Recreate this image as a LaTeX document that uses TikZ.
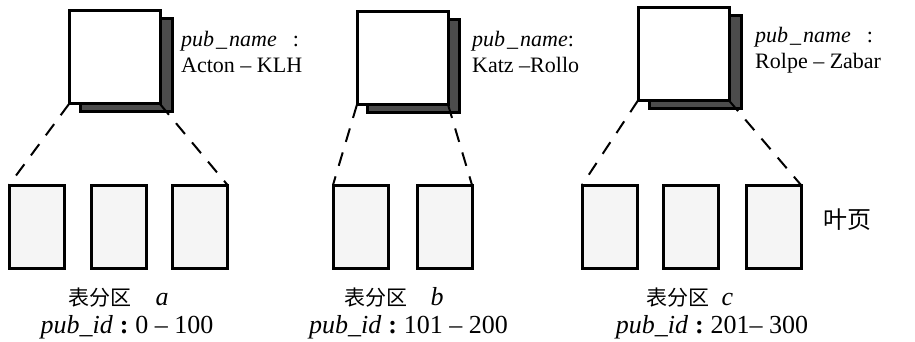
\documentclass[tikz,border=0pt]{standalone}
\usepackage{fontspec}
\setmainfont{Liberation Serif}
\newfontfamily\cjk{Noto Sans CJK SC}
% italic field names with the wide underscore of the original typesetting
\newcommand{\pubname}{\textit{pub\kern2pt\_\kern2pt name}}
\newcommand{\pubid}{\textit{pub\_id}}
\newcommand{\tblpart}{{\cjk\fontsize{21}{24}\selectfont 表分区}}
\newcommand{\idcolon}{\kern7pt\textbf{:}\kern7pt}
\begin{document}
\begin{tikzpicture}[x=1pt,y=-1pt,
  rootbox/.style={draw=black,line width=3pt,fill=white,minimum width=91pt,minimum height=93pt,inner sep=0pt,outer sep=0pt},
  shadowbox/.style={draw=black,line width=3pt,fill=black!70,minimum width=92pt,minimum height=93pt,inner sep=0pt,outer sep=0pt},
  leafbox/.style={draw=black,line width=3pt,fill=black!4,minimum width=55pt,minimum height=83pt,inner sep=0pt,outer sep=0pt},
  link/.style={line width=2pt,dash pattern=on 14pt off 11pt},
  lbl/.style={inner sep=0pt,anchor=base west,font=\fontsize{22}{26}\selectfont},
  partlbl/.style={inner sep=0pt,anchor=base,font=\fontsize{26}{30}\selectfont},
  cn/.style={font=\cjk\fontsize{24}{28}\selectfont}]
\useasboundingbox (0,0) rectangle (915,342);

% partition a
\node[shadowbox] (sa) at (126,65.5) {};
\node[rootbox] (ra) at (114.5,57.5) {};
\node[leafbox] (a1) at (36.5,226.5) {};
\node[leafbox] (a2) at (118.5,226.5) {};
\node[leafbox] (a3) at (200,226.5) {};
\draw[link] (ra.south west) -- (a1.north west);
\draw[link] (ra.south east) -- (a3.north east);
\node[lbl] (na1) at (181,47) {\pubname\hspace{16pt}:};
\node[lbl] (na2) at (181,73) {Acton – KLH};
\node[partlbl] (ta) at (118.5,305) {\tblpart\hspace{24pt}\textit{a}};
\node[partlbl] (ia) at (127,333) {\pubid\idcolon 0 – 100};

% partition b
\node[shadowbox] (sb) at (413.5,66) {};
\node[rootbox] (rb) at (402.5,58) {};
\node[leafbox] (b1) at (360.5,226.5) {};
\node[leafbox] (b2) at (444.5,226.5) {};
\draw[link] (rb.south west) -- (b1.north west);
\draw[link] (rb.south east) -- (b2.north east);
\node[lbl] (nb1) at (472,47) {\pubname:};
\node[lbl] (nb2) at (472,73) {Katz –Rollo};
\node[partlbl] (tb) at (394,305) {\tblpart\hspace{23pt}\textit{b}};
\node[partlbl] (ib) at (408.5,333) {\pubid\idcolon 101 – 200};

% partition c
\node[shadowbox] (sc) at (695,62) {};
\node[rootbox] (rc) at (683.5,54) {};
\node[leafbox] (c1) at (609.5,226.5) {};
\node[leafbox] (c2) at (690.5,226.5) {};
\node[leafbox] (c3) at (773.5,226.5) {};
\draw[link] (rc.south west) -- (c1.north west);
\draw[link] (rc.south east) -- (c3.north east);
\node[lbl] (nc1) at (755,43) {\pubname\hspace{16pt}:};
\node[lbl] (nc2) at (755,69) {Rolpe – Zabar};
\node[partlbl] (tc) at (690,305) {\tblpart\hspace{12pt}\textit{c}};
\node[partlbl] (ic) at (712,333) {\pubid\idcolon 201– 300};

\node[cn] (leaf) at (847,220) {叶页};
\end{tikzpicture}
\end{document}
